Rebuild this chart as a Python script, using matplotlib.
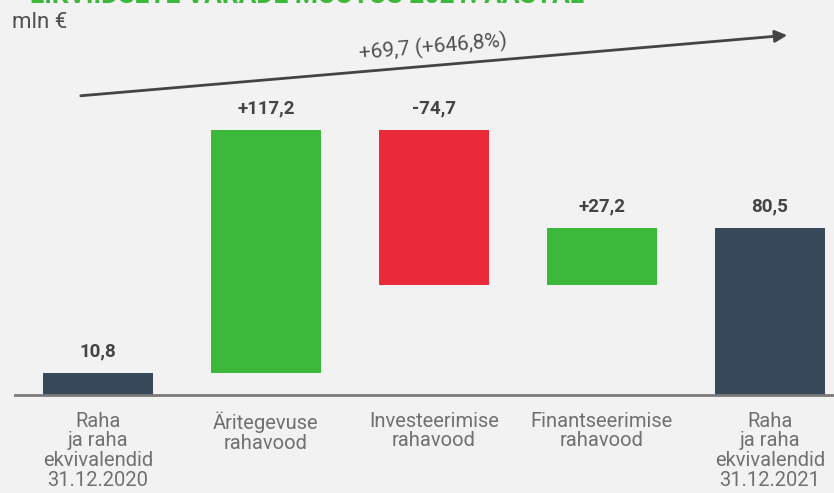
import matplotlib.pyplot as plt
import numpy as np

plt.rcParams['font.family'] = ['Roboto', 'DejaVu Sans']

labels = ['Raha\nja raha\nekvivalendid\n31.12.2020', 'Äritegevuse\nrahavood',
          'Investeerimise\nrahavood', 'Finantseerimise\nrahavood',
          'Raha\nja raha\nekvivalendid\n31.12.2021']
start_value = 10.8
flows = [117.2, -74.7, 27.2]
end_value = 80.5
value_labels = ['10,8', '+117,2', '-74,7', '+27,2', '80,5']
change_text = '+69,7 (+646,8%)'

dark = '#37485a'
green = '#3cb83a'
red = '#ea2a3b'
bg = '#f2f2f2'

# waterfall bottoms / heights
bottoms = [0]
heights = [start_value]
level = start_value
colors = [dark]
for f in flows:
    if f >= 0:
        bottoms.append(level)
        heights.append(f)
        colors.append(green)
    else:
        bottoms.append(level + f)
        heights.append(-f)
        colors.append(red)
    level += f
bottoms.append(0)
heights.append(end_value)
colors.append(dark)

W, H = 834, 493
fig = plt.figure(figsize=(W / 100, H / 100), dpi=100, facecolor=bg)
base_px = 395
ax = fig.add_axes([0, (H - base_px) / H, 1, base_px / H])
ax.set_facecolor(bg)

x = np.arange(len(labels))
spacing = 168
ax.set_xlim(-98 / spacing, (W - 98) / spacing)
ax.set_ylim(0, base_px / 2.07)
ax.bar(x, heights, bottom=bottoms, width=0.65, color=colors, zorder=2)

for xi, b, h, t in zip(x, bottoms, heights, value_labels):
    ax.annotate(t, (xi, b + h), xytext=(0, 9), textcoords='offset points',
                ha='center', va='bottom', fontsize=13.5, fontweight='bold', color='#444444')

for s in ax.spines.values():
    s.set_visible(False)
ax.set_yticks([])
ax.set_xticks(x)
ax.set_xticklabels(labels, fontsize=14.5, color='#707070', linespacing=1.05)
ax.tick_params(axis='x', length=0, pad=12)
ax.axhline(0, xmin=15 / W, xmax=1, color='#7a7a7a', lw=2, zorder=3, clip_on=False)

# title (cut at top) and unit
fig.text(30 / W, 1 - 3 / H, 'LIKVIIDSETE VARADE MUUTUS 2021. AASTAL', fontsize=19,
         fontweight='bold', color=green, ha='left', va='baseline')
fig.text(12 / W, 1 - 28 / H, 'mln €', fontsize=16, color='#505050', ha='left', va='baseline')

# growth arrow
fig.add_artist(plt.matplotlib.patches.FancyArrowPatch(
    (78 / W, 1 - 96 / H), (790 / W, 1 - 35 / H), transform=fig.transFigure,
    arrowstyle='-|>', mutation_scale=18, color='#444444', lw=2))
ang = np.degrees(np.arctan2(61, 712))
fig.text(433 / W, 1 - 47 / H, change_text, fontsize=15, color='#505050',
         ha='center', va='center', rotation=ang, rotation_mode='anchor')

fig.savefig('out.png', dpi=100, facecolor=bg)
